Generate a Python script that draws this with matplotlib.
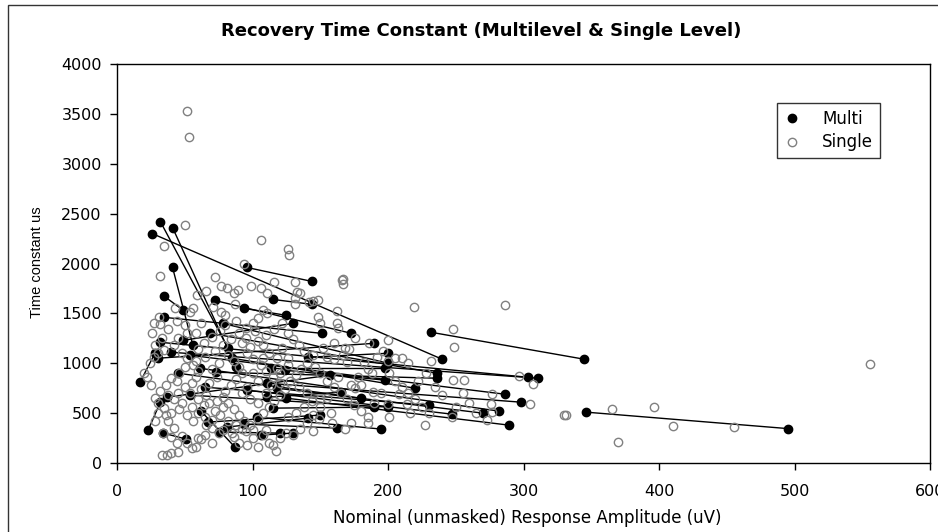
import matplotlib
matplotlib.use("Agg")
import matplotlib.pyplot as plt
from matplotlib.patches import Rectangle

plt.rcParams['font.family'] = ['DejaVu Sans']

# Multilevel runs: each pair of points (start, end) is joined by a line
multi_amp_a = [32, 41, 26, 96, 41, 35, 115, 232, 346, 72, 35, 94, 49, 40, 32, 69,
               73, 54, 111, 61, 118, 125, 96, 114, 124, 103, 17, 23, 34, 62, 37, 81,
               94, 106, 111, 115, 67, 75, 54, 141, 30, 45, 85, 65, 78]
multi_tau_a = [2420, 2360, 2300, 1960, 1960, 1670, 1640, 1310, 510, 1630, 1460, 1550,
               1230, 1110, 1210, 1300, 910, 1080, 800, 950, 750, 650, 730, 950, 930,
               460, 810, 330, 300, 520, 660, 360, 390, 280, 660, 550, 410, 310, 680,
               1060, 1050, 900, 1050, 760, 1400]
multi_amp_b = [82, 88, 240, 144, 56, 49, 144, 345, 495, 173, 151, 125, 130, 311, 303,
               236, 236, 286, 298, 282, 270, 289, 247, 198, 198, 195, 28, 32, 51, 87,
               157, 141, 162, 130, 165, 190, 150, 120, 200, 200, 190, 180, 220, 230, 200]
multi_tau_b = [1150, 960, 1040, 1820, 1180, 1530, 1590, 1040, 345, 1300, 1300, 1480,
               1400, 850, 860, 900, 850, 690, 610, 520, 500, 380, 490, 950, 830, 340,
               1100, 610, 240, 160, 880, 450, 350, 300, 710, 560, 480, 300, 560, 1100,
               1200, 650, 750, 580, 1000]

# Single level measurements
single_amp = [52, 53, 50, 35, 106, 126, 127, 94, 32, 72, 77, 81, 89, 86, 66, 59, 99, 106,
              111, 116, 131, 133, 135, 131, 131, 142, 148, 87, 56, 54, 43, 166, 167, 162,
              148, 27, 32, 31, 71, 77, 80, 108, 111, 167, 219, 286, 248, 249, 297, 307,
              248, 256, 277, 276, 277, 273, 305, 330, 240, 227, 247, 210, 201, 188, 214,
              216, 200, 201, 208, 162, 163, 150, 167, 170, 171, 155, 160, 182, 189, 180,
              173, 176, 145, 168, 159, 168, 185, 173, 145, 149, 150, 331, 365, 396, 410,
              455, 370, 556,
              33, 37, 40, 45, 55, 58, 60, 62, 70, 75, 78, 85, 95, 100, 110, 115, 117, 112,
              120, 125, 130, 70, 65, 48, 42, 38, 40, 35, 30, 28, 25, 22, 20, 24, 27, 30,
              35, 28, 33, 26, 38, 44, 50, 52, 45, 42, 48, 52, 56, 60, 58, 55, 50, 45, 42,
              48, 55, 60, 65, 70, 72, 68, 66, 62, 68, 74, 70, 75, 65, 72, 78, 84, 90, 95,
              100, 104, 88, 80, 76, 70, 64, 60, 58, 62, 82, 86, 90, 92, 88, 84, 80, 78, 82,
              86, 90, 94, 98, 104, 108, 112, 116, 120, 124, 120, 115, 110, 106, 100, 96,
              98, 104, 110, 116, 122, 126, 130, 134, 138, 140, 136, 132, 128, 134, 140,
              144, 138, 132, 126, 140, 135, 92, 95, 102, 108, 112, 118, 122, 126, 118,
              108, 100, 104, 96, 92, 98, 104, 110, 114, 120, 126, 58, 50, 46, 40, 36, 32,
              38, 44, 54, 60, 64, 74, 78, 76, 82, 88, 92, 66, 56, 52, 46, 36, 30, 28, 34,
              40, 44, 52, 86, 90, 96, 104, 108, 100,
              150, 155, 160, 165, 170, 175, 180, 185, 190, 195, 150, 158, 145, 155, 163,
              178, 185, 192, 196, 186, 176, 160, 152, 145, 146, 205, 210, 215, 220, 225,
              230, 235, 222, 228, 215, 200, 260, 265, 250, 255, 232, 200, 205]
single_tau = [3530, 3270, 2390, 2180, 2240, 2150, 2090, 2000, 1870, 1860, 1770, 1750, 1730,
              1700, 1720, 1680, 1770, 1750, 1700, 1810, 1810, 1710, 1700, 1650, 1590, 1610,
              1630, 1590, 1550, 1510, 1550, 1830, 1790, 1520, 1460, 1400, 1390, 1460, 1560,
              1510, 1480, 1530, 1500, 1840, 1560, 1580, 1340, 1160, 870, 790, 830, 830, 690,
              590, 510, 430, 590, 480, 680, 380, 460, 1050, 900, 900, 590, 500, 590, 460,
              690, 1400, 1350, 1400, 1080, 1010, 1140, 1060, 1040, 1010, 710, 780, 780, 750,
              1620, 1150, 400, 340, 400, 400, 320, 440, 640, 480, 540, 560, 370, 360, 210,
              990,
              80, 80, 100, 110, 150, 160, 250, 240, 350, 300, 330, 300, 320, 250, 330, 180,
              120, 200, 250, 300, 280, 200, 280, 270, 350, 420, 500, 550, 600, 650, 780, 860,
              900, 1000, 1060, 1100, 1130, 1180, 1250, 1300, 1340, 1420, 1380, 1300, 1250,
              1180, 1100, 1050, 980, 920, 860, 800, 760, 700, 640, 600, 560, 500, 460, 430,
              520, 600, 680, 740, 800, 860, 940, 1000, 1060, 1120, 1180, 1240, 1300, 1350,
              1400, 1450, 1420, 1380, 1320, 1260, 1200, 1140, 1300, 1400, 1080, 1020, 960,
              900, 840, 780, 720, 660, 600, 540, 480, 420, 380, 440, 500, 560, 620, 680, 740,
              800, 860, 920, 980, 1040, 1100, 1160, 1220, 1280, 1340, 1400, 1300, 1240, 1180,
              1120, 1000, 940, 880, 820, 760, 700, 620, 560, 500, 460, 400, 340, 1200, 1250,
              1320, 1180, 1100, 1050, 1150, 1050, 950, 1050, 900, 820, 760, 700, 640, 600,
              700, 780, 900, 980, 1020, 960, 900, 850, 780, 720, 680, 820, 700, 640, 580, 620,
              560, 480, 420, 380, 340, 380, 420, 480, 540, 480, 500, 420, 300, 260, 200, 200,
              260, 200, 180, 160, 280, 330,
              900, 820, 760, 700, 640, 580, 520, 460, 600, 700, 560, 500, 480, 650, 860, 860,
              940, 1060, 1120, 1200, 1250, 1200, 1150, 1080, 960, 820, 760, 700, 640, 560,
              500, 760, 820, 900, 1000, 1020, 600, 500, 560, 700, 1020, 1230, 1050]

fig = plt.figure(figsize=(9.38, 5.32), dpi=100)
# chart area border (cropped on the right and bottom)
fig.patches.append(Rectangle((8 / 938, -0.1), 1.2, 1.1 - 5 / 532, transform=fig.transFigure,
                             fill=False, edgecolor='#333333', linewidth=1.0))
ax = fig.add_axes([117 / 938, (532 - 463) / 532, 813 / 938, 399 / 532])

for xa, ya, xb, yb in zip(multi_amp_a, multi_tau_a, multi_amp_b, multi_tau_b):
    ax.plot([xa, xb], [ya, yb], color='black', linewidth=1.0, zorder=2)
ax.plot(multi_amp_a + multi_amp_b, multi_tau_a + multi_tau_b, linestyle='none',
        marker='o', markersize=6, markerfacecolor='black', markeredgecolor='black',
        label='Multi', zorder=3)
ax.plot(single_amp, single_tau, linestyle='none', marker='o', markersize=6,
        markerfacecolor='none', markeredgecolor='#808080', markeredgewidth=1.0,
        label='Single', zorder=4)

ax.set_xlim(0, 600)
ax.set_ylim(0, 4000)
ax.set_xticks(range(0, 601, 100))
ax.set_yticks(range(0, 4001, 500))
ax.tick_params(direction='out', length=5, width=1, labelsize=11.5, colors='black')
ax.tick_params(axis='x', pad=10)
ax.tick_params(axis='y', pad=6)
for s in ax.spines.values():
    s.set_linewidth(1)
    s.set_color('black')

fig.text(481 / 938, 1 - 31 / 532, 'Recovery Time Constant (Multilevel & Single Level)',
         fontsize=13, fontweight='bold', ha='center', va='center')
fig.text(527 / 938, 1 - 518 / 532, 'Nominal (unmasked) Response Amplitude (uV)',
         fontsize=12, ha='center', va='center')
fig.text(37 / 938, 1 - 262 / 532, 'Time constant us', fontsize=10.5, rotation=90,
         ha='center', va='center', family='Liberation Sans')

leg = ax.legend(loc='upper left', bbox_to_anchor=(0.8118, 0.9023), fontsize=12,
                frameon=True, fancybox=False, edgecolor='black', handletextpad=1.3,
                borderpad=0.4, borderaxespad=0, labelspacing=0.35, handlelength=1.0)
leg.get_frame().set_linewidth(1)

fig.savefig('out.png', dpi=100)
